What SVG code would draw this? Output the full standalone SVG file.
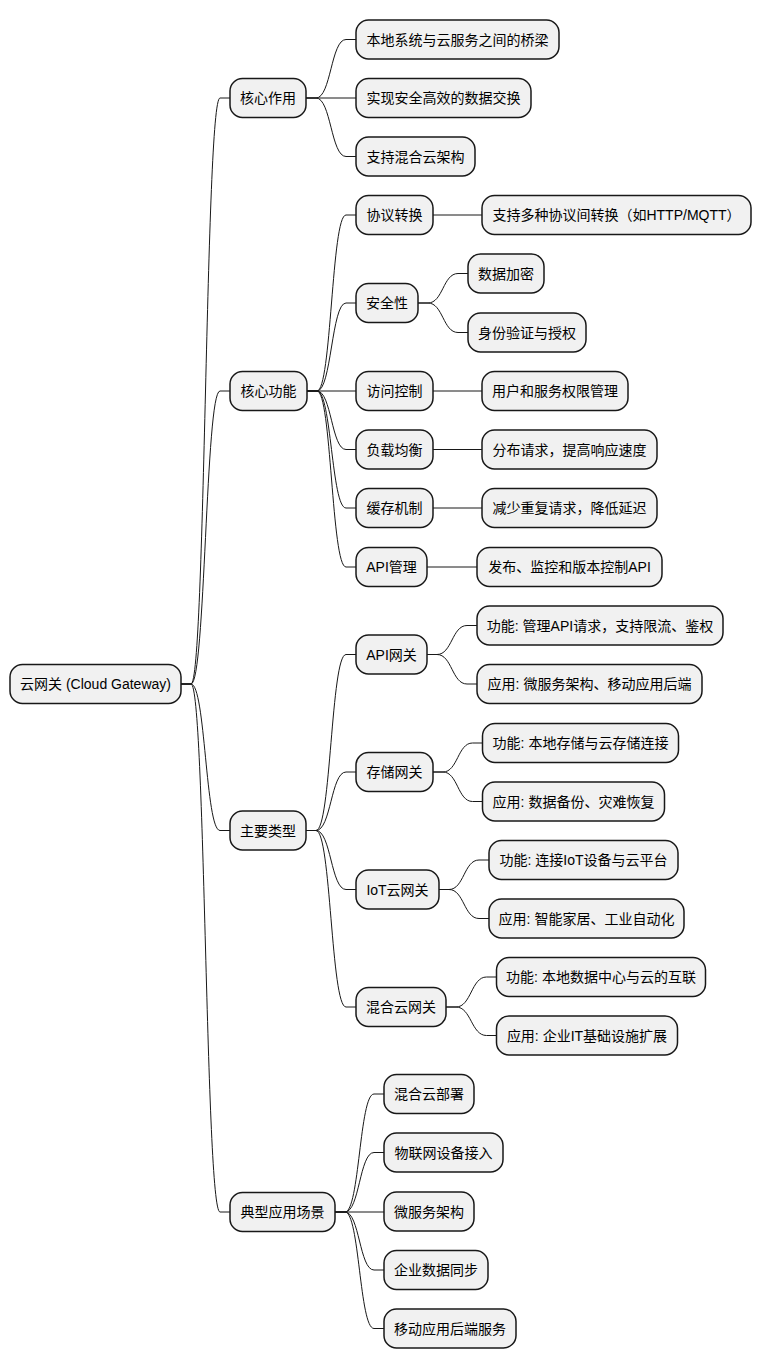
<svg xmlns="http://www.w3.org/2000/svg" width="762" height="1369" viewBox="0 0 762 1369">
<style>
.n rect{fill:#F1F1F1;stroke:#181818;stroke-width:1.5}
.n text{font-family:"Liberation Sans","Noto Sans CJK SC",sans-serif;font-size:14px;fill:#000;text-anchor:middle}
.c path{fill:none;stroke:#181818;stroke-width:1}
</style>
<rect width="762" height="1369" fill="#FFFFFF"/>
<g id="connectors" class="c">
<path d="M181,684 L191,684 C205.5,684 205.5,98 220,98 L230,98"/>
<path d="M181,684 L191,684 C205.5,684 205.5,391 220,391 L230,391"/>
<path d="M181,684 L191,684 C205.5,684 205.5,830.5 220,830.5 L230,830.5"/>
<path d="M181,684 L191,684 C205.5,684 205.5,1212 220,1212 L230,1212"/>
<path d="M306,98 L316,98 C331,98 331,39.5 346,39.5 L356,39.5"/>
<path d="M306,98 L356,98"/>
<path d="M306,98 L316,98 C331,98 331,156.5 346,156.5 L356,156.5"/>
<path d="M307,391 L317,391 C331.5,391 331.5,215 346,215 L356,215"/>
<path d="M307,391 L317,391 C331.5,391 331.5,303 346,303 L356,303"/>
<path d="M307,391 L356,391"/>
<path d="M307,391 L317,391 C331.5,391 331.5,449.5 346,449.5 L356,449.5"/>
<path d="M307,391 L317,391 C331.5,391 331.5,508 346,508 L356,508"/>
<path d="M307,391 L317,391 C331.5,391 331.5,567 346,567 L356,567"/>
<path d="M433,215 L482,215"/>
<path d="M418,303 L428,303 C443,303 443,273.5 458,273.5 L468,273.5"/>
<path d="M418,303 L428,303 C443,303 443,332.5 458,332.5 L468,332.5"/>
<path d="M433,391 L482,391"/>
<path d="M433,449.5 L482,449.5"/>
<path d="M433,508 L482,508"/>
<path d="M427,567 L477,567"/>
<path d="M306,830.5 L316,830.5 C331,830.5 331,654.5 346,654.5 L356,654.5"/>
<path d="M306,830.5 L316,830.5 C331,830.5 331,772 346,772 L356,772"/>
<path d="M306,830.5 L316,830.5 C331,830.5 331,889.5 346,889.5 L356,889.5"/>
<path d="M306,830.5 L316,830.5 C331,830.5 331,1007 346,1007 L356,1007"/>
<path d="M427,654.5 L437,654.5 C452,654.5 452,625.5 467,625.5 L477,625.5"/>
<path d="M427,654.5 L437,654.5 C452,654.5 452,684 467,684 L477,684"/>
<path d="M433,772 L443,772 C457.75,772 457.75,743 472.5,743 L482.5,743"/>
<path d="M433,772 L443,772 C457.75,772 457.75,801.5 472.5,801.5 L482.5,801.5"/>
<path d="M439,889.5 L449,889.5 C464,889.5 464,860 479,860 L489,860"/>
<path d="M439,889.5 L449,889.5 C464,889.5 464,918.5 479,918.5 L489,918.5"/>
<path d="M446,1007 L456,1007 C471.25,1007 471.25,977 486.5,977 L496.5,977"/>
<path d="M446,1007 L456,1007 C471.25,1007 471.25,1035.5 486.5,1035.5 L496.5,1035.5"/>
<path d="M335,1212 L345,1212 C359.5,1212 359.5,1094 374,1094 L384,1094"/>
<path d="M335,1212 L345,1212 C359.5,1212 359.5,1152.5 374,1152.5 L384,1152.5"/>
<path d="M335,1212 L384,1212"/>
<path d="M335,1212 L345,1212 C359.5,1212 359.5,1270 374,1270 L384,1270"/>
<path d="M335,1212 L345,1212 C359.5,1212 359.5,1328.5 374,1328.5 L384,1328.5"/>
</g>
<g id="root" class="n"><rect x="10" y="664.5" width="171" height="39" rx="12.5"/><text x="95.5" y="689">云网关 (Cloud Gateway)</text></g>
<g id="n-core-role" class="n"><rect x="230" y="78.5" width="76" height="39" rx="12.5"/><text x="268" y="103">核心作用</text></g>
<g id="n-core-func" class="n"><rect x="230" y="371.5" width="77" height="39" rx="12.5"/><text x="268.5" y="396">核心功能</text></g>
<g id="n-types" class="n"><rect x="230" y="811" width="76" height="39" rx="12.5"/><text x="268" y="835.5">主要类型</text></g>
<g id="n-scenarios" class="n"><rect x="230" y="1192.5" width="105" height="39" rx="12.5"/><text x="282.5" y="1217">典型应用场景</text></g>
<g id="n-a1" class="n"><rect x="356" y="20" width="203" height="39" rx="12.5"/><text x="457.5" y="44.5">本地系统与云服务之间的桥梁</text></g>
<g id="n-a2" class="n"><rect x="356" y="78.5" width="175" height="39" rx="12.5"/><text x="443.5" y="103">实现安全高效的数据交换</text></g>
<g id="n-a3" class="n"><rect x="356" y="137" width="119" height="39" rx="12.5"/><text x="415.5" y="161.5">支持混合云架构</text></g>
<g id="n-b1" class="n"><rect x="356" y="195.5" width="77" height="39" rx="12.5"/><text x="394.5" y="220">协议转换</text></g>
<g id="n-b2" class="n"><rect x="356" y="283.5" width="62" height="39" rx="12.5"/><text x="387" y="308">安全性</text></g>
<g id="n-b3" class="n"><rect x="356" y="371.5" width="77" height="39" rx="12.5"/><text x="394.5" y="396">访问控制</text></g>
<g id="n-b4" class="n"><rect x="356" y="430" width="77" height="39" rx="12.5"/><text x="394.5" y="454.5">负载均衡</text></g>
<g id="n-b5" class="n"><rect x="356" y="488.5" width="77" height="39" rx="12.5"/><text x="394.5" y="513">缓存机制</text></g>
<g id="n-b6" class="n"><rect x="356" y="547.5" width="71" height="39" rx="12.5"/><text x="391.5" y="572">API管理</text></g>
<g id="n-b1a" class="n"><rect x="482" y="195.5" width="269" height="39" rx="12.5"/><text x="616.5" y="220">支持多种协议间转换（如HTTP/MQTT）</text></g>
<g id="n-b2a" class="n"><rect x="468" y="254" width="76" height="39" rx="12.5"/><text x="506" y="278.5">数据加密</text></g>
<g id="n-b2b" class="n"><rect x="468" y="313" width="118" height="39" rx="12.5"/><text x="527" y="337.5">身份验证与授权</text></g>
<g id="n-b3a" class="n"><rect x="482" y="371.5" width="146" height="39" rx="12.5"/><text x="555" y="396">用户和服务权限管理</text></g>
<g id="n-b4a" class="n"><rect x="482" y="430" width="175" height="39" rx="12.5"/><text x="569.5" y="454.5">分布请求，提高响应速度</text></g>
<g id="n-b5a" class="n"><rect x="482" y="488.5" width="175" height="39" rx="12.5"/><text x="569.5" y="513">减少重复请求，降低延迟</text></g>
<g id="n-b6a" class="n"><rect x="477" y="547.5" width="185" height="39" rx="12.5"/><text x="569.5" y="572">发布、监控和版本控制API</text></g>
<g id="n-c1" class="n"><rect x="356" y="635" width="71" height="39" rx="12.5"/><text x="391.5" y="659.5">API网关</text></g>
<g id="n-c2" class="n"><rect x="356" y="752.5" width="77" height="39" rx="12.5"/><text x="394.5" y="777">存储网关</text></g>
<g id="n-c3" class="n"><rect x="356" y="870" width="83" height="39" rx="12.5"/><text x="397.5" y="894.5">IoT云网关</text></g>
<g id="n-c4" class="n"><rect x="356" y="987.5" width="90" height="39" rx="12.5"/><text x="401" y="1012">混合云网关</text></g>
<g id="n-c1a" class="n"><rect x="477" y="606" width="246" height="39" rx="12.5"/><text x="600" y="630.5">功能: 管理API请求，支持限流、鉴权</text></g>
<g id="n-c1b" class="n"><rect x="477" y="664.5" width="225" height="39" rx="12.5"/><text x="589.5" y="689">应用: 微服务架构、移动应用后端</text></g>
<g id="n-c2a" class="n"><rect x="482.5" y="723.5" width="196" height="39" rx="12.5"/><text x="580.5" y="748">功能: 本地存储与云存储连接</text></g>
<g id="n-c2b" class="n"><rect x="482.5" y="782" width="182" height="39" rx="12.5"/><text x="573.5" y="806.5">应用: 数据备份、灾难恢复</text></g>
<g id="n-c3a" class="n"><rect x="489" y="840.5" width="189" height="39" rx="12.5"/><text x="583.5" y="865">功能: 连接IoT设备与云平台</text></g>
<g id="n-c3b" class="n"><rect x="489" y="899" width="195" height="39" rx="12.5"/><text x="586.5" y="923.5">应用: 智能家居、工业自动化</text></g>
<g id="n-c4a" class="n"><rect x="496.5" y="957.5" width="209" height="39" rx="12.5"/><text x="601" y="982">功能: 本地数据中心与云的互联</text></g>
<g id="n-c4b" class="n"><rect x="496.5" y="1016" width="181" height="39" rx="12.5"/><text x="587" y="1040.5">应用: 企业IT基础设施扩展</text></g>
<g id="n-d1" class="n"><rect x="384" y="1074.5" width="90" height="39" rx="12.5"/><text x="429" y="1099">混合云部署</text></g>
<g id="n-d2" class="n"><rect x="384" y="1133" width="119" height="39" rx="12.5"/><text x="443.5" y="1157.5">物联网设备接入</text></g>
<g id="n-d3" class="n"><rect x="384" y="1192" width="90" height="39" rx="12.5"/><text x="429" y="1216.5">微服务架构</text></g>
<g id="n-d4" class="n"><rect x="384" y="1250.5" width="104" height="39" rx="12.5"/><text x="436" y="1275">企业数据同步</text></g>
<g id="n-d5" class="n"><rect x="384" y="1309" width="132" height="39" rx="12.5"/><text x="450" y="1333.5">移动应用后端服务</text></g>
</svg>
